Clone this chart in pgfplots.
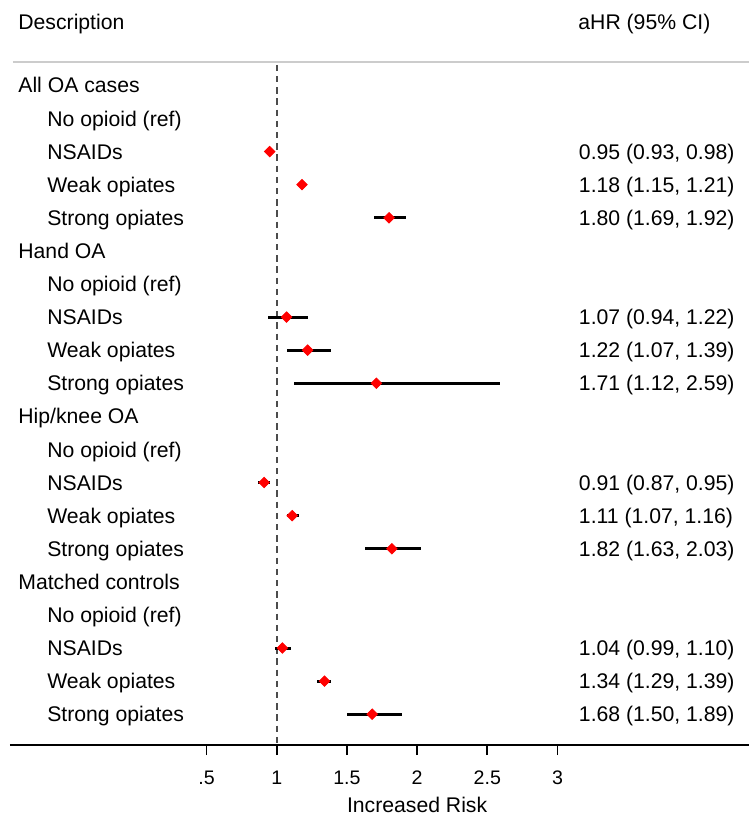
\documentclass[border=0pt]{standalone}
\usepackage{fontspec}
\setmainfont{Liberation Sans}
\usepackage{pgfplots}
\usepackage{pgfplotstable}
\pgfplotsset{compat=1.18}

\newcommand{\lab}{\fontsize{10.6}{12.7}\selectfont}
\tikzset{txt/.style={anchor=base west, font=\lab, inner sep=0pt, yshift=-3.8pt}}

% row (negative, top to bottom), estimate, lower, upper
\pgfplotstableread{
row est lo hi
-3  0.95 0.93 0.98
-4  1.18 1.15 1.21
-5  1.80 1.69 1.92
-8  1.07 0.94 1.22
-9  1.22 1.07 1.39
-10 1.71 1.12 2.59
-13 0.91 0.87 0.95
-14 1.11 1.07 1.16
-15 1.82 1.63 2.03
-18 1.04 0.99 1.10
-19 1.34 1.29 1.39
-20 1.68 1.50 1.89
}\hr

\begin{document}
\begin{tikzpicture}
\begin{axis}[
    scale only axis,
    width=369.5pt, height=372.5pt,
    xmin=-0.9, xmax=4.364,
    ymin=-20.93, ymax=1.58,
    axis x line*=bottom,
    axis y line=none,
    x axis line style={line width=1pt},
    xtick={0.5,1,1.5,2,2.5,3},
    xticklabels={.5,1,1.5,2,2.5,3},
    tick align=outside,
    major tick length=5pt,
    tick style={black, line width=0.9pt},
    xticklabel style={font=\fontsize{9.8}{11}\selectfont, yshift=-4.5pt},
    clip=false,
]
% header rule
\addplot[gray!40, line width=0.8pt] coordinates {(-0.88,-0.29) (4.364,-0.29)};
% reference line at 1
\addplot[black!70, line width=1pt, dash pattern=on 3.2pt off 2.4pt] coordinates {(1,-0.38) (1,-20.93)};

% confidence intervals
\addplot[draw=none, mark=none,
    error bars/.cd, x dir=both, x explicit,
    error bar style={draw=black, line width=1.5pt}, error mark=none]
    table[x=est, y=row,
          x error plus expr=\thisrow{hi}-\thisrow{est},
          x error minus expr=\thisrow{est}-\thisrow{lo}] {\hr};
% point estimates
\addplot[only marks, mark=square*, mark size=1.85pt, red,
    mark options={fill=red, draw=red, rotate=45}]
    table[x=est, y=row] {\hr};

% column headers
\node[txt] at (axis cs:-0.843,0.92) {Description};
\node[txt] at (axis cs:3.146,0.92) {aHR (95\% CI)};

% left labels
\node[txt] at (axis cs:-0.843,-1) {All OA cases};
\node[txt] at (axis cs:-0.637,-2) {No opioid (ref)};
\node[txt] at (axis cs:-0.637,-3) {NSAIDs};
\node[txt] at (axis cs:-0.637,-4) {Weak opiates};
\node[txt] at (axis cs:-0.637,-5) {Strong opiates};
\node[txt] at (axis cs:-0.843,-6) {Hand OA};
\node[txt] at (axis cs:-0.637,-7) {No opioid (ref)};
\node[txt] at (axis cs:-0.637,-8) {NSAIDs};
\node[txt] at (axis cs:-0.637,-9) {Weak opiates};
\node[txt] at (axis cs:-0.637,-10) {Strong opiates};
\node[txt] at (axis cs:-0.843,-11) {Hip/knee OA};
\node[txt] at (axis cs:-0.637,-12) {No opioid (ref)};
\node[txt] at (axis cs:-0.637,-13) {NSAIDs};
\node[txt] at (axis cs:-0.637,-14) {Weak opiates};
\node[txt] at (axis cs:-0.637,-15) {Strong opiates};
\node[txt] at (axis cs:-0.843,-16) {Matched controls};
\node[txt] at (axis cs:-0.637,-17) {No opioid (ref)};
\node[txt] at (axis cs:-0.637,-18) {NSAIDs};
\node[txt] at (axis cs:-0.637,-19) {Weak opiates};
\node[txt] at (axis cs:-0.637,-20) {Strong opiates};

% right column
\node[txt] at (axis cs:3.15,-3) {0.95 (0.93, 0.98)};
\node[txt] at (axis cs:3.15,-4) {1.18 (1.15, 1.21)};
\node[txt] at (axis cs:3.15,-5) {1.80 (1.69, 1.92)};
\node[txt] at (axis cs:3.15,-8) {1.07 (0.94, 1.22)};
\node[txt] at (axis cs:3.15,-9) {1.22 (1.07, 1.39)};
\node[txt] at (axis cs:3.15,-10) {1.71 (1.12, 2.59)};
\node[txt] at (axis cs:3.15,-13) {0.91 (0.87, 0.95)};
\node[txt] at (axis cs:3.15,-14) {1.11 (1.07, 1.16)};
\node[txt] at (axis cs:3.15,-15) {1.82 (1.63, 2.03)};
\node[txt] at (axis cs:3.15,-18) {1.04 (0.99, 1.10)};
\node[txt] at (axis cs:3.15,-19) {1.34 (1.29, 1.39)};
\node[txt] at (axis cs:3.15,-20) {1.68 (1.50, 1.89)};

% x axis title
\node[anchor=base, font=\lab, inner sep=0pt, yshift=-33.8pt] at (axis cs:2,-20.93) {Increased Risk};
\end{axis}
\path ([xshift=-5pt]current axis.north west) -- ([yshift=-35pt]current axis.south east);
\end{tikzpicture}
\end{document}
